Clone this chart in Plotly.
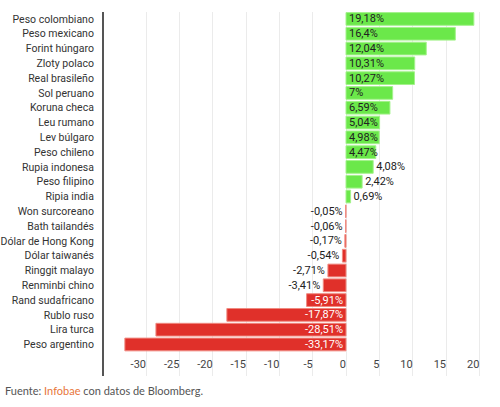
import plotly.graph_objects as go

currencies = ["Peso colombiano", "Peso mexicano", "Forint húngaro", "Zloty polaco",
              "Real brasileño", "Sol peruano", "Koruna checa", "Leu rumano",
              "Lev búlgaro", "Peso chileno", "Rupia indonesa", "Peso filipino",
              "Ripia india", "Won surcoreano", "Bath tailandés", "Dólar de Hong Kong",
              "Dólar taiwanés", "Ringgit malayo", "Renminbi chino", "Rand sudafricano",
              "Rublo ruso", "Lira turca", "Peso argentino"]
values = [19.18, 16.4, 12.04, 10.31, 10.27, 7, 6.59, 5.04, 4.98, 4.47, 4.08, 2.42,
          0.69, -0.05, -0.06, -0.17, -0.54, -2.71, -3.41, -5.91, -17.87, -28.51, -33.17]
labels = ["19,18%", "16,4%", "12,04%", "10,31%", "10,27%", "7%", "6,59%", "5,04%",
          "4,98%", "4,47%", "4,08%", "2,42%", "0,69%", "-0,05%", "-0,06%", "-0,17%",
          "-0,54%", "-2,71%", "-3,41%", "-5,91%", "-17,87%", "-28,51%", "-33,17%"]
x_ticks = [-30, -25, -20, -15, -10, -5, 0, 5, 10, 15, 20]

GREEN = "#6be84a"
RED = "#e0302a"
colors = [GREEN if v > 0 else RED for v in values]
line_colors = ["#a4f28c" if v > 0 else "#f08a80" for v in values]

inside_min = 4.4
positions = ["inside" if abs(v) >= inside_min else "outside" for v in values]
text_colors = []
for v, p in zip(values, positions):
    if p == "inside" and v < 0:
        text_colors.append("#ffffff")
    else:
        text_colors.append("#222222")

fig = go.Figure()
fig.add_trace(go.Bar(
    x=values, y=currencies, orientation="h",
    marker=dict(color=colors, line=dict(color=line_colors, width=1)),
    text=labels, textposition=positions, insidetextanchor="start",
    textfont=dict(color=text_colors, size=11, family="Roboto"),
    constraintext="none", cliponaxis=False,
    width=0.86, hoverinfo="skip",
))

fig.update_layout(
    width=500, height=407,
    margin=dict(l=104, r=0, t=12, b=31),
    plot_bgcolor="white", paper_bgcolor="white",
    showlegend=False,
    font=dict(family="Roboto", size=11, color="#333333"),
    xaxis=dict(
        range=[-36.3, 23.1], tickvals=x_ticks, ticktext=[str(t) for t in x_ticks],
        showgrid=True, gridcolor="#ebebeb", gridwidth=1, zeroline=False,
        ticklabelposition="inside left", ticks="", showline=False,
        tickfont=dict(size=11, color="#444444"),
        fixedrange=True, automargin=False,
    ),
    yaxis=dict(
        categoryorder="array", categoryarray=currencies,
        range=[24.13, -0.47], showgrid=False, zeroline=False,
        showline=True, linecolor="#555555", linewidth=2,
        ticks="", ticklabelstandoff=6, automargin=False,
        tickfont=dict(size=10.5, color="#333333"),
    ),
    annotations=[dict(
        xref="paper", yref="paper", x=-0.255, y=-0.04, xanchor="left", yanchor="middle",
        showarrow=False, align="left",
        text="Fuente: <span style='color:#e8763a'>Infobae</span> con datos de Bloomberg.",
        font=dict(family="Lato", size=11, color="#555555"),
    )],
)

fig.write_html("out.html")
